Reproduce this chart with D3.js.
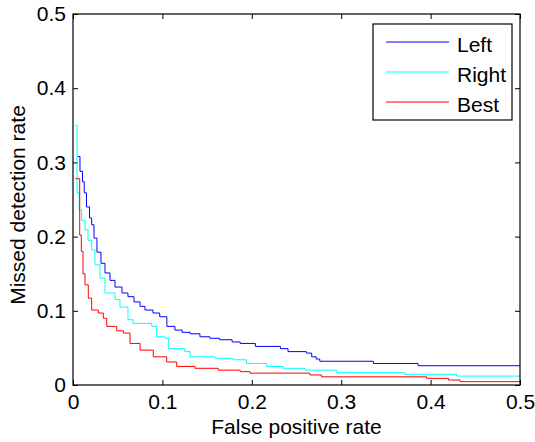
<!DOCTYPE html>
<html>
<head>
<meta charset="utf-8">
<script src="https://cdn.jsdelivr.net/npm/d3@7"></script>
<style>
  body { margin: 0; background: #fff; }
  svg text { font-family: "Liberation Sans", Arial, Helvetica, sans-serif; fill: #000; }
</style>
</head>
<body>
<div id="chart"></div>
<script>
// [false positive rate, missed detection rate], step curves
var leftCurve = [
  [0.0048, 0.308], [0.0078, 0.288], [0.0106, 0.274], [0.0126, 0.259], [0.0151, 0.240],
  [0.0185, 0.225], [0.0209, 0.216], [0.0235, 0.198], [0.0268, 0.179], [0.0313, 0.164],
  [0.0358, 0.151], [0.0414, 0.141], [0.047, 0.132], [0.0548, 0.124], [0.0615, 0.119],
  [0.0682, 0.112], [0.075, 0.106], [0.0805, 0.101], [0.0895, 0.097], [0.097, 0.092],
  [0.105, 0.079], [0.114, 0.074], [0.122, 0.071], [0.131, 0.069], [0.142, 0.065],
  [0.153, 0.063], [0.164, 0.061], [0.178, 0.058], [0.187, 0.056], [0.204, 0.052],
  [0.232, 0.049], [0.2405, 0.045], [0.261, 0.043], [0.267, 0.038], [0.272, 0.035],
  [0.276, 0.032], [0.336, 0.029], [0.386, 0.026], [0.5, 0.026]
]
var rightCurve = [
  [0.0026, 0.350], [0.0045, 0.259], [0.007, 0.236], [0.0097, 0.222], [0.0134, 0.209],
  [0.0168, 0.195], [0.0209, 0.182], [0.0246, 0.162], [0.0302, 0.144], [0.0358, 0.124],
  [0.047, 0.115], [0.0526, 0.105], [0.0615, 0.088], [0.0671, 0.083], [0.088, 0.079],
  [0.0936, 0.065], [0.103, 0.063], [0.1066, 0.049], [0.125, 0.045], [0.131, 0.038],
  [0.159, 0.036], [0.179, 0.034], [0.194, 0.029], [0.2167, 0.025], [0.235, 0.0225],
  [0.2595, 0.020], [0.295, 0.0166], [0.371, 0.0144], [0.429, 0.012], [0.5, 0.012]
]
var bestCurve = [
  [0.0026, 0.278], [0.0075, 0.202], [0.0093, 0.180], [0.0112, 0.150], [0.0134, 0.135],
  [0.0171, 0.117], [0.0209, 0.101], [0.0283, 0.097], [0.0339, 0.090], [0.0377, 0.079],
  [0.0489, 0.073], [0.0563, 0.070], [0.0638, 0.056], [0.075, 0.047], [0.0898, 0.038],
  [0.1048, 0.031], [0.116, 0.025], [0.1365, 0.0225], [0.1625, 0.020], [0.187, 0.018],
  [0.198, 0.016], [0.265, 0.0135], [0.278, 0.011], [0.3956, 0.009], [0.42, 0.0067],
  [0.433, 0.0045], [0.5, 0.0045]
]
var seriesNames = ["Left", "Right", "Best"]
var seriesColors = ["#0000ff", "#00ffff", "#ff0000"]
var xTicks = [0, 0.1, 0.2, 0.3, 0.4, 0.5]
var yTicks = [0, 0.1, 0.2, 0.3, 0.4, 0.5]

var series = [leftCurve, rightCurve, bestCurve]

var margin = { top: 14, right: 15, bottom: 57, left: 73 },
    width = 535 - margin.left - margin.right,
    height = 442 - margin.top - margin.bottom;

var svg = d3.select("#chart")
    .append("svg")
    .attr("width", 535)
    .attr("height", 442)
    .append("g")
    .attr("transform", "translate(" + margin.left + "," + margin.top + ")")

var x = d3.scaleLinear().domain([0, 0.5]).range([0, width])
var y = d3.scaleLinear().domain([0, 0.5]).range([height, 0])

var fmt = function (d) { return d === 0 ? "0" : d3.format(".1f")(d) }

// axes with inward ticks, MATLAB style
svg.append("g")
    .attr("transform", "translate(0," + height + ")")
    .call(d3.axisBottom(x).tickValues(xTicks).tickFormat(fmt).tickSizeInner(-5).tickSizeOuter(0).tickPadding(9))
    .call(function (g) { g.select(".domain").remove() })
    .selectAll("text").style("font-size", "21px")

svg.append("g")
    .call(d3.axisLeft(y).tickValues(yTicks).tickFormat(fmt).tickSizeInner(-5).tickSizeOuter(0).tickPadding(7))
    .call(function (g) { g.select(".domain").remove() })
    .selectAll("text").style("font-size", "21px")

svg.append("g")
    .call(d3.axisTop(x).tickValues(xTicks).tickFormat("").tickSizeInner(-5).tickSizeOuter(0))
    .call(function (g) { g.select(".domain").remove() })

svg.append("g")
    .attr("transform", "translate(" + width + ",0)")
    .call(d3.axisRight(y).tickValues(yTicks).tickFormat("").tickSizeInner(-5).tickSizeOuter(0))
    .call(function (g) { g.select(".domain").remove() })

var line = d3.line()
    .x(function (d) { return x(d[0]) })
    .y(function (d) { return y(d[1]) })
    .curve(d3.curveStepAfter)

svg.selectAll(".curve")
    .data(series)
    .enter()
    .append("path")
    .attr("class", "curve")
    .attr("fill", "none")
    .attr("stroke", function (d, i) { return seriesColors[i] })
    .attr("stroke-width", 1)
    .attr("d", line)

svg.append("rect")
    .attr("width", width)
    .attr("height", height)
    .attr("fill", "none")
    .attr("stroke", "#000")
    .attr("stroke-width", 1.2)

// legend
var legend = svg.append("g").attr("transform", "translate(" + (373 - margin.left) + "," + (24 - margin.top) + ")")
legend.append("rect")
    .attr("width", 139)
    .attr("height", 96)
    .attr("fill", "#fff")
    .attr("stroke", "#000")
    .attr("stroke-width", 1.2)

seriesNames.forEach(function (name, i) {
    var ly = 18 + i * 30
    legend.append("line")
        .attr("x1", 13).attr("x2", 76)
        .attr("y1", ly).attr("y2", ly)
        .attr("stroke", seriesColors[i])
        .attr("stroke-width", 1)
    legend.append("text")
        .attr("x", 84)
        .attr("y", ly + 9.5)
        .style("font-size", "21px")
        .text(name)
})

svg.append("text")
    .attr("x", width / 2)
    .attr("y", 434 - margin.top)
    .attr("text-anchor", "middle")
    .style("font-size", "21px")
    .text("False positive rate")

svg.append("text")
    .attr("transform", "translate(" + (25 - margin.left) + "," + (205 - margin.top) + ") rotate(-90)")
    .attr("text-anchor", "middle")
    .style("font-size", "21px")
    .text("Missed detection rate")
</script>
</body>
</html>
